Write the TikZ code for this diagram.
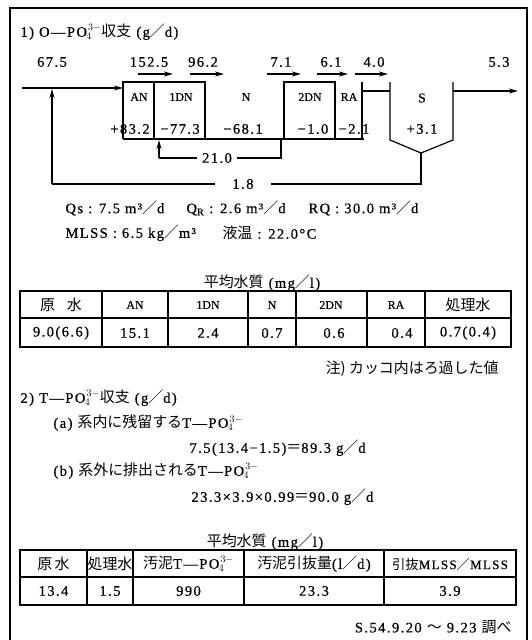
\documentclass[tikz,border=0pt]{standalone}
\usepackage{fontspec}
\setmainfont{Liberation Serif}[LetterSpace=10,FakeBold=0.6]
\newfontfamily\jp{Noto Sans CJK JP}[Scale=1.03]
\newfontfamily\lab{Liberation Serif}[FakeBold=0.4]
\usetikzlibrary{arrows.meta}
\newcommand\fsl{{\jp ／}}
\newcommand\pofour{PO\kern-0.5pt$_{4}^{\,3-}$}
\begin{document}
\begin{tikzpicture}[x=1pt,y=-1pt,font=\fontsize{14.5}{17}\selectfont]
\tikzset{
 frameline/.style={line width=1.4pt},
 pipe/.style={line width=1.2pt},
 flowarrow/.style={line width=1.3pt,-{Stealth[length=9pt,width=5pt]}},
 boxlab/.style={font=\lab\fontsize{12}{14}\selectfont,inner sep=1pt},
 numlab/.style={inner sep=1pt},
 gaplab/.style={fill=white,inner ysep=1pt},
 cell/.style={inner sep=1pt},
 grid/.style={line width=1.1pt}
}
\useasboundingbox (0,0) rectangle (531,640);
% frame
\draw[frameline] (10,640) -- (10,8) -- (527,8) -- (527,640);

% ---------- section 1 ----------
\node[anchor=west] (t1) at (17,32) {1) O—\pofour{\jp 収支} (g\fsl d)};

% coordinates
\coordinate (inS) at (22,88);
\coordinate (anW) at (123,88);
\coordinate (anTL) at (123,82);
\coordinate (anBL) at (123,139);
\coordinate (dnTR) at (205,82);
\coordinate (dnBR) at (205,139);
\coordinate (divT) at (154,82);
\coordinate (divB) at (154,139);
\coordinate (bEnd) at (364,139);
\coordinate (tdTL) at (284,82);
\coordinate (tdBL) at (284,139);
\coordinate (tdTR) at (335,82);
\coordinate (tdBR) at (335,139);
\coordinate (raT) at (362,82);
\coordinate (raB) at (362,139);
\coordinate (raM) at (362,91);
\coordinate (sLM) at (390,91);
\coordinate (sTL) at (390,82);
\coordinate (sBL) at (390,140);
\coordinate (sBot) at (421,153);
\coordinate (sBR) at (453,140);
\coordinate (sTR) at (453,82);
\coordinate (sRM) at (453,91);
\coordinate (outE) at (518,91);
\coordinate (retB) at (421,184);
\coordinate (retL) at (52,184);
\coordinate (retT) at (52,89);
\coordinate (recT) at (281,139);
\coordinate (recB) at (281,158);
\coordinate (recL) at (159,158);
\coordinate (recE) at (159,140);

% tanks
\draw[flowarrow] (inS) -- (anW);
\draw[pipe] (anBL) -- (anTL) -- (dnTR) -- (dnBR);
\draw[pipe] (divT) -- (divB);
\draw[pipe] (anBL) -- (bEnd);
\draw[pipe] (tdBL) -- (tdTL) -- (tdTR) -- (tdBR);
\draw[pipe] (raT) -- (raB);
\draw[pipe] (raM) -- (sLM);
\draw[pipe] (sTL) -- (sBL) -- (sBot) -- (sBR) -- (sTR);
\draw[flowarrow] (sRM) -- (outE);
% returns
\draw[pipe] (sBot) -- (retB) -- (retL);
\draw[flowarrow] (retL) -- (retT);
\draw[pipe] (recT) -- (recB) -- (recL);
\draw[flowarrow] (recL) -- (recE);
\node[gaplab,inner xsep=5pt] (r21) at (217,158) {21.0};
\node[gaplab,inner xsep=17pt] (r18) at (243,184) {1.8};

% flow arrows on top
\coordinate (a1s) at (138,74); \coordinate (a1e) at (173,74);
\coordinate (a2s) at (190,74); \coordinate (a2e) at (224,74);
\coordinate (a3s) at (267,74); \coordinate (a3e) at (301,74);
\coordinate (a4s) at (317,74); \coordinate (a4e) at (348,74);
\coordinate (a5s) at (355,74); \coordinate (a5e) at (388,74);
\foreach \s/\e in {a1s/a1e,a2s/a2e,a3s/a3e,a4s/a4e,a5s/a5e}
  \draw[flowarrow] (\s) -- (\e);

% numbers
\node[numlab] (n1) at (52,62) {67.5};
\node[numlab] (n2) at (149,62) {152.5};
\node[numlab] (n3) at (203,62) {96.2};
\node[numlab] (n4) at (281,62) {7.1};
\node[numlab] (n5) at (331,62) {6.1};
\node[numlab] (n6) at (374,62) {4.0};
\node[numlab] (n7) at (499,62) {5.3};

% tank labels
\node[boxlab] (lAN) at (139,97) {AN};
\node[boxlab] (l1DN) at (181,97) {1DN};
\node[boxlab] (lN) at (246,97) {N};
\node[boxlab] (l2DN) at (310,97) {2DN};
\node[boxlab] (lRA) at (349,97) {RA};
\node[boxlab,font=\lab\fontsize{13.5}{15}\selectfont] (lS) at (422,98) {S};

% balances
\node[numlab] (b1) at (130,129) {+83.2};
\node[numlab] (b2) at (180,129) {−77.3};
\node[numlab] (b3) at (243,129) {−68.1};
\node[numlab] (b4) at (313,129) {−1.0};
\node[numlab] (b5) at (354,129) {−2.1};
\node[numlab] (b6) at (422,129) {+3.1};

% conditions
\node[anchor=west] (qs) at (62,208) {Qs : 7.5 m³\fsl d};
\node[anchor=west] (qr) at (183,208) {Q$_{\mathrm{R}}$ : 2.6 m³\fsl d};
\node[anchor=west] (rq) at (305,208) {RQ : 30.0 m³\fsl d};
\node[anchor=west] (ml) at (62,233) {MLSS : 6.5 kg\fsl m³};
\node[anchor=west] (lt) at (219,233) {{\jp 液温} : 22.0°C};

% ---------- table 1 ----------
\node (tt1) at (262,283) {{\jp 平均水質} (mg\fsl l)};
\draw[grid] (20,291) rectangle (511,347);
\draw[grid] (20,318) -- (511,318);
\foreach \x in {102,168,248,296,367,425} \draw[grid] (\x,291) -- (\x,347);
\node[cell] (h1) at (61,305) {\jp 原\hspace{0.8em}水};
\node[cell,font=\lab\fontsize{12}{14}\selectfont] (h2) at (135,305) {AN};
\node[cell,font=\lab\fontsize{12}{14}\selectfont] (h3) at (208,305) {1DN};
\node[cell,font=\lab\fontsize{12}{14}\selectfont] (h4) at (272,305) {N};
\node[cell,font=\lab\fontsize{12}{14}\selectfont] (h5) at (331,305) {2DN};
\node[cell,font=\lab\fontsize{12}{14}\selectfont] (h6) at (396,305) {RA};
\node[cell] (h7) at (468,305) {\jp 処理水};
\node[cell] (d1) at (61,333) {9.0(6.6)};
\node[cell] (d2) at (135,333) {15.1};
\node[cell] (d3) at (208,333) {2.4};
\node[cell] (d4) at (272,333) {0.7};
\node[cell] (d5) at (334,333) {0.6};
\node[cell] (d6) at (402,333) {0.4};
\node[cell] (d7) at (468,333) {0.7(0.4)};
\node[anchor=east] (note) at (502,369) {\jp 注) カッコ内はろ過した値};

% ---------- section 2 ----------
\node[anchor=west] (s2) at (17,398) {2) T—\pofour{\jp 収支} (g\fsl d)};
\node[anchor=west] (s2a) at (50,423) {(a) {\jp 系内に残留する}T—\pofour};
\node[anchor=west] (s2af) at (186,448) {7.5(13.4−1.5){\jp ＝}89.3 g\fsl d};
\node[anchor=west] (s2b) at (50,471) {(b) {\jp 系外に排出される}T—\pofour};
\node[anchor=west] (s2bf) at (188,497) {23.3×3.9×0.99{\jp ＝}90.0 g\fsl d};

% ---------- table 2 ----------
\node (tt2) at (265,542) {{\jp 平均水質} (mg\fsl l)};
\draw[grid] (20,550) rectangle (516,605);
\draw[grid] (20,577) -- (516,577);
\foreach \x in {87,133,244,384} \draw[grid] (\x,550) -- (\x,605);
\node[cell] (g1) at (53.5,564) {\jp 原\,水};
\node[cell] (g2) at (110,564) {\jp 処理水};
\node[cell] (g3) at (188.5,564) {{\jp 汚泥}T—\pofour};
\node[cell] (g4) at (314,564) {{\jp 汚泥引抜量}(l\fsl d)};
\node[cell,font=\fontsize{13}{15}\selectfont] (g5) at (450,564) {{\jp 引抜}MLSS\fsl MLSS};
\node[cell] (e1) at (53.5,591) {13.4};
\node[cell] (e2) at (110,591) {1.5};
\node[cell] (e3) at (188.5,591) {990};
\node[cell] (e4) at (314,591) {23.3};
\node[cell] (e5) at (450,591) {3.9};

\node[anchor=east] (date) at (515,627) {S.54.9.20 {\jp 〜} 9.23 {\jp 調べ}};
\end{tikzpicture}
\end{document}
